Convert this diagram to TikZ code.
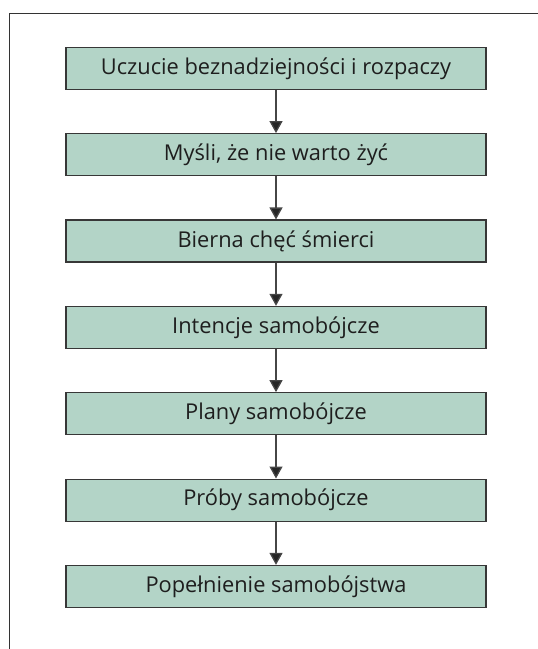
\documentclass[tikz,border=0pt]{standalone}
\usepackage{fontspec}
\setmainfont{Open Sans}
\usetikzlibrary{arrows.meta}
\definecolor{boxfill}{RGB}{179,212,199}
\definecolor{boxline}{RGB}{55,55,55}
\definecolor{arrline}{RGB}{70,70,70}
\definecolor{txt}{RGB}{30,30,30}
\tikzset{
  stepbox/.style={draw=boxline, line width=1.1bp, fill=boxfill, minimum width=420bp, minimum height=42bp, inner sep=0pt, text=txt, font=\fontsize{21.9}{26}\selectfont},
  flowarrow/.style={draw=arrline, line width=1.3bp, -{Triangle[width=13bp,length=12bp,fill=black!85]}},
  framestyle/.style={draw=black!80, line width=1.2bp}
}
\begin{document}
\begin{tikzpicture}[x=1bp,y=-1bp]
\useasboundingbox (0,0) rectangle (538,649);
\coordinate (fb) at (9.3,649);
\coordinate (fc) at (9.3,13.3);
\coordinate (fr) at (538,13.3);
\draw[framestyle] (fb) -- (fc) -- (fr);
\node[stepbox] (b1) at (276,68.3) {Uczucie beznadziejności i rozpaczy};
\node[stepbox] (b2) at (276,154.65) {Myśli, że nie warto żyć};
\node[stepbox] (b3) at (276,241) {Bierna chęć śmierci};
\node[stepbox] (b4) at (276,327.35) {Intencje samobójcze};
\node[stepbox] (b5) at (276,413.7) {Plany samobójcze};
\node[stepbox] (b6) at (276,500.05) {Próby samobójcze};
\node[stepbox] (b7) at (276,586.4) {Popełnienie samobójstwa};
\foreach \a/\b in {b1/b2,b2/b3,b3/b4,b4/b5,b5/b6,b6/b7}
  \draw[flowarrow] (\a.south) -- (\b.north);
\end{tikzpicture}
\end{document}
